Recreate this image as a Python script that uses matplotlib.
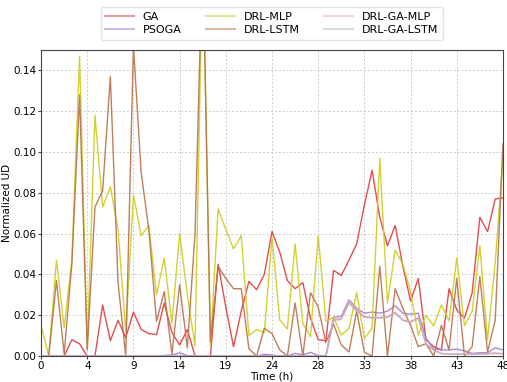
import numpy as np
import matplotlib
matplotlib.use("Agg")
import matplotlib.pyplot as plt

series_names = ["GA", "PSOGA", "DRL-MLP", "DRL-LSTM", "DRL-GA-MLP", "DRL-GA-LSTM"]
colors = ["#e0393f", "#a57cc8", "#cccc1e", "#b8704a", "#f0a0bc", "#b8b0b8"]

tick_labels = ["0", "4", "9", "14", "19", "24", "28", "33", "38", "43", "48"]

ga = [0, 0, 0, 0, 0.008, 0.006, 0, 0, 0.025, 0.0075,
      0.0175, 0.009, 0.0215, 0.013, 0.011, 0.0105, 0.026, 0.0115, 0.0054, 0.013,
      0, 0, 0, 0.045, 0.024, 0.0045, 0.022, 0.0366, 0.0325, 0.040,
      0.061, 0.051, 0.037, 0.033, 0.036, 0.0185, 0.008, 0.0075, 0.042, 0.0395,
      0.047, 0.055, 0.074, 0.091, 0.068, 0.054, 0.064, 0.044, 0.027, 0.038,
      0.008, 0.0046, 0.003, 0.033, 0.0226, 0.0185, 0.031, 0.068, 0.061, 0.077,
      0.0775]

psoga = [0, 0, 0, 0, 0, 0, 0, 0, 0, 0,
         0, 0, 0, 0, 0, 0, 0.0003, 0.0005, 0.0015, 0.0003,
         0, 0, 0, 0, 0, 0, 0, 0, 0, 0.0008,
         0.0005, 0, 0, 0.0013, 0.0005, 0.0018, 0.0003, 0, 0.019, 0.0195,
         0.0275, 0.0234, 0.021, 0.0215, 0.021, 0.022, 0.0246, 0.021, 0.0205, 0.021,
         0.0087, 0.0034, 0.003, 0.003, 0.0034, 0.0025, 0.0013, 0.0016, 0.0016, 0.004,
         0.003]

drl_mlp = [0.015, 0, 0.047, 0.014, 0.047, 0.147, 0.004, 0.118, 0.073, 0.083,
           0.062, 0.012, 0.079, 0.059, 0.064, 0.030, 0.048, 0.016, 0.060, 0.030,
           0.005, 0.20, 0.005, 0.072, 0.062, 0.0525, 0.059, 0.010, 0.013, 0.0115,
           0.058, 0.0177, 0.0133, 0.055, 0.016, 0.0095, 0.059, 0.017, 0.019, 0.0103,
           0.0136, 0.031, 0.0087, 0.0136, 0.097, 0.026, 0.052, 0.045, 0.0316, 0.0103,
           0.020, 0.0148, 0.025, 0.0172, 0.048, 0.0148, 0.022, 0.054, 0.0079, 0.046,
           0.097]

drl_lstm = [0, 0, 0.037, 0.001, 0.045, 0.128, 0.003, 0.073, 0.081, 0.137,
            0.036, 0, 0.152, 0.090, 0.062, 0.017, 0.0316, 0.001, 0.035, 0.004,
            0.060, 0.20, 0.007, 0.044, 0.038, 0.033, 0.033, 0.0035, 0, 0.0136,
            0.011, 0.003, 0, 0.026, 0, 0.031, 0.024, 0.0066, 0.0156, 0.0054,
            0.002, 0.022, 0.0018, 0, 0.044, 0, 0.033, 0.0234, 0.015, 0.0046,
            0.006, 0, 0.015, 0.003, 0.038, 0, 0.0046, 0.039, 0.002, 0.0177,
            0.104]

drl_ga_mlp = [0, 0, 0, 0, 0, 0, 0, 0, 0, 0,
              0, 0, 0, 0, 0, 0, 0, 0, 0, 0,
              0, 0, 0, 0, 0, 0, 0, 0, 0, 0,
              0, 0, 0, 0, 0, 0, 0, 0, 0.018, 0.0185,
              0.0264, 0.0226, 0.0193, 0.0189, 0.0189, 0.0193, 0.0215, 0.0177, 0.0169, 0.0189,
              0.006, 0.003, 0.0013, 0.001, 0.001, 0.001, 0.001, 0.001, 0.0012, 0.0015,
              0.0012]

drl_ga_lstm = [0, 0, 0, 0, 0, 0, 0, 0, 0, 0,
               0, 0, 0, 0, 0, 0, 0, 0, 0, 0,
               0, 0, 0, 0, 0, 0, 0, 0, 0, 0,
               0, 0, 0, 0, 0, 0, 0, 0, 0.0175, 0.018,
               0.026, 0.022, 0.019, 0.0186, 0.0186, 0.019, 0.021, 0.0174, 0.0166, 0.0185,
               0.0058, 0.0028, 0.0012, 0.0009, 0.0009, 0.0009, 0.0009, 0.0009, 0.001, 0.0013,
               0.001]

data = [ga, psoga, drl_mlp, drl_lstm, drl_ga_mlp, drl_ga_lstm]

fig = plt.figure(figsize=(5.07, 3.82), dpi=100)
ax = fig.add_axes([0.081, 0.068, 0.911, 0.801])

x = np.linspace(0, 48, len(ga))
for name, vals, c in zip(series_names, data, colors):
    ax.plot(x, vals, color=c, lw=1.0, label=name, alpha=0.9)

ax.set_xlim(0, 48)
ax.set_ylim(0, 0.15)
ax.set_xticks(np.linspace(0, 48, 11))
ax.set_xticklabels(tick_labels)
ax.set_yticks(np.arange(0, 0.141, 0.02))
ax.set_yticklabels([f"{v:.2f}" for v in np.arange(0, 0.141, 0.02)])
ax.tick_params(labelsize=7.5, length=2, pad=1.5, color="#444444")
ax.grid(True, ls=(0, (2, 2)), color="#cccccc", lw=0.7)
ax.set_axisbelow(True)
for s in ax.spines.values():
    s.set_color("#444444")
ax.set_xlabel("Time (h)", fontsize=7.5, va="center")
ax.set_ylabel("Normalized UD", fontsize=7.5)
ax.xaxis.set_label_coords(0.5, -0.066)
ax.yaxis.set_label_coords(-0.062, 0.5)

leg = fig.legend(loc="upper center", bbox_to_anchor=(0.536, 0.995), ncol=3,
                 fontsize=8, frameon=True, handlelength=2.6, columnspacing=2.2,
                 labelspacing=0.3, borderpad=0.4)
for h in leg.get_lines():
    h.set_alpha(0.5)
    h.set_linewidth(1.5)
leg.get_frame().set_edgecolor("#dddddd")

fig.savefig("out.png", dpi=100)
